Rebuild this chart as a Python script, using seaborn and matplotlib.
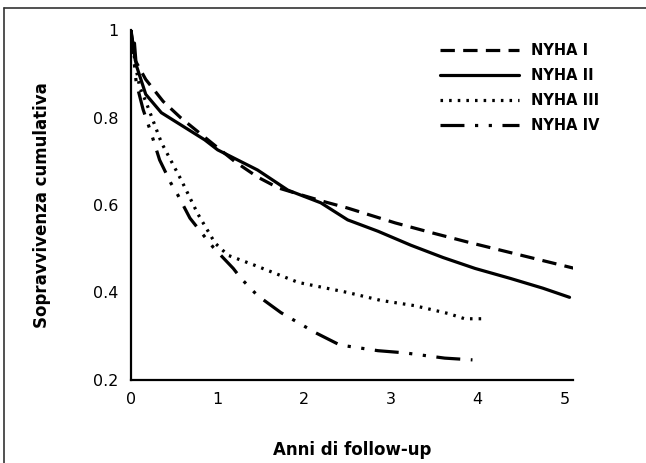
import pandas as pd
import matplotlib.pyplot as plt
from matplotlib.lines import Line2D
import seaborn as sns

# values
nyha1_x = [0, 0.05, 0.17, 0.37, 0.57, 0.85, 1.2, 1.46, 1.7, 2.0, 2.24, 2.5, 3.05, 3.5, 3.89, 4.3, 4.73, 5.12]
nyha1_y = [1.0, 0.93, 0.887, 0.837, 0.80, 0.755, 0.699, 0.664, 0.639, 0.621, 0.607, 0.593, 0.559, 0.535, 0.515, 0.495, 0.474, 0.455]

nyha2_x = [0, 0.02, 0.04, 0.06, 0.17, 0.35, 0.6, 0.85, 1.0, 1.2, 1.46, 1.81, 2.19, 2.5, 2.85, 3.23, 3.6, 3.97, 4.38, 4.75, 5.06]
nyha2_y = [1.0, 0.95, 0.97, 0.92, 0.853, 0.811, 0.78, 0.749, 0.726, 0.706, 0.68, 0.634, 0.605, 0.566, 0.54, 0.508, 0.48, 0.455, 0.432, 0.41, 0.389]

nyha3_x = [0, 0.05, 0.1, 0.17, 0.35, 0.58, 0.77, 0.97, 1.12, 1.43, 1.93, 2.5, 2.88, 3.27, 3.66, 3.85, 4.08]
nyha3_y = [1.0, 0.92, 0.87, 0.837, 0.743, 0.657, 0.58, 0.513, 0.485, 0.462, 0.423, 0.40, 0.382, 0.37, 0.352, 0.34, 0.34]

nyha4_x = [0, 0.06, 0.14, 0.23, 0.33, 0.46, 0.54, 0.68, 0.86, 0.95, 1.18, 1.27, 1.46, 1.73, 2.13, 2.41, 2.85, 3.16, 3.62, 3.94]
nyha4_y = [1.0, 0.88, 0.818, 0.766, 0.703, 0.65, 0.623, 0.57, 0.525, 0.503, 0.455, 0.432, 0.393, 0.354, 0.308, 0.28, 0.267, 0.262, 0.25, 0.246]

labels = ['NYHA I', 'NYHA II', 'NYHA III', 'NYHA IV']
x_ticks = [0, 1, 2, 3, 4, 5]
y_ticks = [0.2, 0.4, 0.6, 0.8, 1.0]
y_tick_labels = ['0.2', '0.4', '0.6', '0.8', '1']

# long table for seaborn
frames = []
for lab, xs, ys in zip(labels, [nyha1_x, nyha2_x, nyha3_x, nyha4_x],
                       [nyha1_y, nyha2_y, nyha3_y, nyha4_y]):
    frames.append(pd.DataFrame({'anni': xs, 'sopr': ys, 'classe': lab}))
df = pd.concat(frames, ignore_index=True)

sns.set_style('white')
plt.rcParams['font.family'] = ['DejaVu Sans']
plt.rcParams['text.color'] = 'black'
plt.rcParams['axes.labelcolor'] = 'black'
plt.rcParams['xtick.color'] = 'black'
plt.rcParams['ytick.color'] = 'black'

dash_styles = {
    'NYHA I': (4.5, 2.6),
    'NYHA II': '',
    'NYHA III': (0.8, 1.9),
    'NYHA IV': (7.5, 3.3, 1, 3.3, 1, 3.3),
}

fig = plt.figure(figsize=(6.46, 4.63), dpi=100)
ax = fig.add_axes([131 / 646, 1 - 380 / 463, 442 / 646, 350 / 463])

sns.lineplot(data=df, x='anni', y='sopr', style='classe', dashes=dash_styles,
             color='black', linewidth=2.3, sort=False, estimator=None,
             legend=False, ax=ax)

ax.set_xlim(0, 5.1)
ax.set_ylim(0.2, 1.0)
ax.set_xticks(x_ticks)
ax.set_yticks(y_ticks)
ax.set_yticklabels(y_tick_labels)
ax.tick_params(axis='both', length=0, labelsize=11.5, pad=9, colors='black')
ax.grid(False)

for side in ['top', 'right']:
    ax.spines[side].set_visible(False)
for side in ['left', 'bottom']:
    ax.spines[side].set_linewidth(1.6)
    ax.spines[side].set_color('black')

ax.set_xlabel('Anni di follow-up', fontsize=12, fontweight='bold', labelpad=24)
ax.set_ylabel('Sopravvivenza cumulativa', fontsize=12, fontweight='bold', labelpad=30)

handles = [Line2D([], [], color='black', linewidth=2.3,
                  linestyle=(0, d) if d else '-')
           for d in dash_styles.values()]
leg = ax.legend(handles, labels, loc='upper left', bbox_to_anchor=(0.67, 1.0),
                frameon=False, handlelength=5.4, handletextpad=0.8,
                labelspacing=0.68, prop={'weight': 'bold', 'size': 10.5})
for t in leg.get_texts():
    t.set_color('black')

# outer frame (top and left edges only)
fig.add_artist(Line2D([4 / 646, 1], [1 - 8 / 463, 1 - 8 / 463], color='#333333', linewidth=1.2))
fig.add_artist(Line2D([4 / 646, 4 / 646], [0, 1 - 8 / 463], color='#333333', linewidth=1.2))

fig.savefig('out.png', dpi=100)
